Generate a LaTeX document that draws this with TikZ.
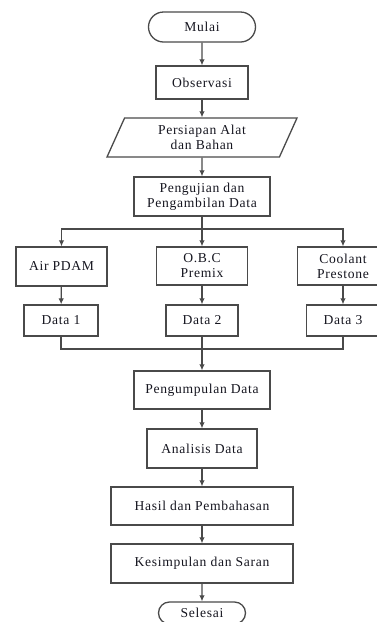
\documentclass[tikz,border=0pt]{standalone}
\usepackage{fontspec}
\setmainfont[LetterSpace=5]{Liberation Serif}
\usetikzlibrary{arrows.meta,shapes.geometric,shapes.misc}
\definecolor{linec}{HTML}{4A4A4A}
\definecolor{textc}{HTML}{15151F}
\begin{document}
\begin{tikzpicture}[x=1pt,y=-1pt,
  box/.style={draw=linec, line width=1.3pt, rectangle, align=center, inner sep=2pt,
    font=\fontsize{13.6}{15}\selectfont, text=textc},
  term/.style={box, rounded rectangle},
  io/.style={box, trapezium, trapezium left angle=58.4, trapezium right angle=121.6,
    trapezium stretches body},
  arr/.style={draw=linec, line width=1.3pt, -{Latex[length=6pt,width=5.5pt]}},
  ln/.style={draw=linec, line width=1.3pt}]
\useasboundingbox (0,0) rectangle (377,622);
\clip (0,0) rectangle (377,622);
\node[term, minimum width=111, minimum height=30] (mulai) at (202,27) {Mulai};
\node[box, minimum width=92, minimum height=33] (obs) at (202,82.5) {Observasi};
\node[io, minimum width=190, minimum height=39] (prep) at (202,137.5) {Persiapan Alat\\dan Bahan};
\node[box, minimum width=136, minimum height=39] (uji) at (202,196.5) {Pengujian dan\\Pengambilan Data};
\node[box, minimum width=91, minimum height=39] (air) at (61.5,266.5) {Air PDAM};
\node[box, minimum width=91, minimum height=38] (obc) at (202,266) {O.B.C\\Premix};
\node[box, minimum width=91, minimum height=38] (cool) at (343,266) {Coolant\\Prestone};
\node[box, minimum width=74, minimum height=31] (d1) at (61,320.5) {Data 1};
\node[box, minimum width=72, minimum height=31] (d2) at (202,320.5) {Data 2};
\node[box, minimum width=73, minimum height=31] (d3) at (343,320.5) {Data 3};
\node[box, minimum width=136, minimum height=38] (kumpul) at (202,390) {Pengumpulan Data};
\node[box, minimum width=110, minimum height=39] (anal) at (202,448.5) {Analisis Data};
\node[box, minimum width=182, minimum height=38] (hasil) at (202,506) {Hasil dan Pembahasan};
\node[box, minimum width=182, minimum height=39] (kes) at (202,563.5) {Kesimpulan dan Saran};
\node[term, minimum width=91, minimum height=22] (selesai) at (202,613) {Selesai};
\coordinate (split) at (202,229);
\coordinate (merge) at (202,349);
\draw[arr] (mulai) -- (obs);
\draw[arr] (obs) -- (prep);
\draw[arr] (prep) -- (uji);
\draw[ln] (uji) -- (split);
\draw[arr] (split) -- (obc);
\draw[arr] (split) -| (air);
\draw[arr] (split) -| (cool);
\draw[arr] (air) -- (d1);
\draw[arr] (obc) -- (d2);
\draw[arr] (cool) -- (d3);
\draw[ln] (d1) |- (merge);
\draw[ln] (d3) |- (merge);
\draw[ln] (d2) -- (merge);
\draw[arr] (merge) -- (kumpul);
\draw[arr] (kumpul) -- (anal);
\draw[arr] (anal) -- (hasil);
\draw[arr] (hasil) -- (kes);
\draw[arr] (kes) -- (selesai);
\end{tikzpicture}
\end{document}
